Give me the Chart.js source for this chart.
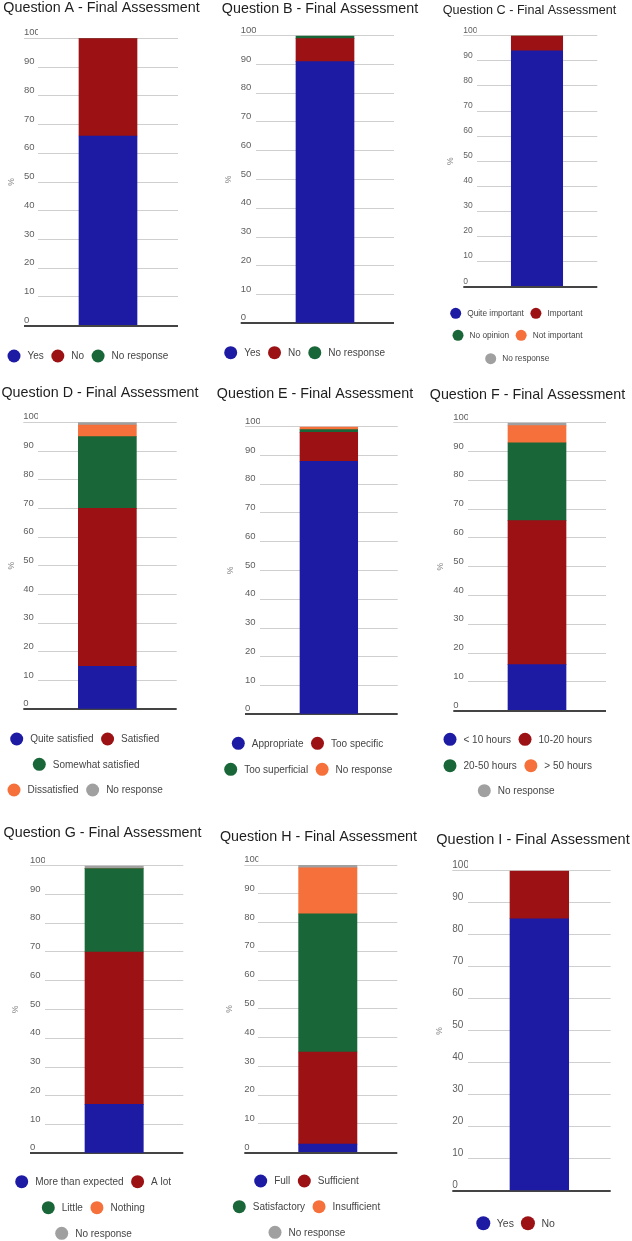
<!DOCTYPE html>
<html><head><meta charset="utf-8">
<script src="https://cdn.jsdelivr.net/npm/chart.js@4/dist/chart.umd.min.js"></script>
<style>
html,body{margin:0;padding:0;background:#fff;}
body{width:632px;height:1241px;position:relative;overflow:hidden;}
canvas{position:absolute;}
</style></head><body>
<script>
// ---------- DATA ----------
const titles = [
  'Question A - Final Assessment','Question B - Final Assessment','Question C - Final Assessment',
  'Question D - Final Assessment','Question E - Final Assessment','Question F - Final Assessment',
  'Question G - Final Assessment','Question H - Final Assessment','Question I - Final Assessment'
];
const yTickValues = [0,10,20,30,40,50,60,70,80,90,100];
const yAxisLabel = '%';

const catsA = ['Yes','No','No response'];
const valsA = [66, 34, 0];
const catsB = ['Yes','No','No response'];
const valsB = [91, 8, 1];
const catsC = ['Quite important','Important','No opinion','Not important','No response'];
const valsC = [94, 6, 0, 0, 0];
const catsD = ['Quite satisfied','Satisfied','Somewhat satisfied','Dissatisfied','No response'];
const valsD = [15, 55, 25, 4, 1];
const catsE = ['Appropriate','Too specific','Too superficial','No response'];
const valsE = [88, 10, 1, 1];
const catsF = ['< 10 hours','10-20 hours','20-50 hours','> 50 hours','No response'];
const valsF = [16, 50, 27, 6, 1];
const catsG = ['More than expected','A lot','Little','Nothing','No response'];
const valsG = [17, 53, 29, 0, 1];
const catsH = ['Full','Sufficient','Satisfactory','Insufficient','No response'];
const valsH = [3, 32, 48, 16, 1];
const catsI = ['Yes','No'];
const valsI = [85, 15];

const palette = ['#1d1ba3','#9b1114','#196639','#f5703a','#a0a0a0'];

// ---------- LAYOUT ----------
const FONT = "'Liberation Sans', Arial, sans-serif";
const panels = [
  {cats:catsA, vals:valsA, cell:[0,0,210,378], title:{x:101.5,y:12,size:14.3}, labelX:24, plotL:38, plotR:178, top:38.3, bottom:325.7, barW:58, pctX:11.7,
   legend:{rows:[{y:356,x:14,items:[0,1,2]}]}},
  {cats:catsB, vals:valsB, cell:[210,0,210,378], title:{x:320,y:13.3,size:14.3}, labelX:240.7, plotL:256, plotR:394, top:35.7, bottom:323.3, barW:58, pctX:228.3,
   legend:{rows:[{y:352.7,x:230.7,items:[0,1,2]}]}},
  {cats:catsC, vals:valsC, cell:[420,0,212,378], title:{x:529.5,y:14,size:12.6}, labelX:463.3, plotL:476.7, plotR:597.3, top:35.7, bottom:286.7, barW:51.4, pctX:451, tick:8.5,
   legend:{size:8.3, r:5.5, gap:11.5, sep:12, rows:[{y:313.3,x:455.7,items:[0,1]},{y:335.3,x:458,items:[2,3]},{y:358.7,x:490.7,items:[4]}]}},
  {cats:catsD, vals:valsD, cell:[0,378,210,437], title:{x:100,y:397.3,size:14.3}, labelX:23.3, plotL:38, plotR:176.7, top:422.3, bottom:709.3, barW:58, pctX:11.7,
   legend:{rows:[{y:739,x:16.7,items:[0,1]},{y:764.3,x:39.3,items:[2]},{y:790,x:14,items:[3,4]}]}},
  {cats:catsE, vals:valsE, cell:[210,378,210,437], title:{x:315,y:398.3,size:14.3}, labelX:245, plotL:260, plotR:397.7, top:426.7, bottom:714.3, barW:57.7, pctX:231,
   legend:{rows:[{y:743.3,x:238.3,items:[0,1]},{y:769.3,x:230.7,items:[2,3]}]}},
  {cats:catsF, vals:valsF, cell:[420,378,212,437], title:{x:527.5,y:399,size:14.3}, labelX:453.3, plotL:468, plotR:606, top:422.7, bottom:710.7, barW:58, pctX:440.7,
   legend:{rows:[{y:739.3,x:450,items:[0,1]},{y:765.7,x:450,items:[2,3]},{y:790.7,x:484.3,items:[4]}]}},
  {cats:catsG, vals:valsG, cell:[0,815,210,426], title:{x:102.5,y:837,size:14.3}, labelX:30, plotL:45, plotR:183.3, top:865.7, bottom:1153.3, barW:58.3, pctX:16,
   legend:{rows:[{y:1181.7,x:21.7,items:[0,1]},{y:1207.7,x:48.3,items:[2,3]},{y:1233.3,x:61.7,items:[4]}]}},
  {cats:catsH, vals:valsH, cell:[210,815,210,426], title:{x:318.5,y:841,size:14.3}, labelX:244.3, plotL:258.3, plotR:397.3, top:865, bottom:1152.7, barW:58.3, pctX:230,
   legend:{rows:[{y:1181,x:260.7,items:[0,1]},{y:1206.7,x:239.3,items:[2,3]},{y:1232.3,x:275,items:[4]}]}},
  {cats:catsI, vals:valsI, cell:[420,815,212,426], title:{x:533,y:844.3,size:14.5}, labelX:452.3, plotL:468, plotR:610.7, top:870.7, bottom:1191, barW:58.7, pctX:439.3, tick:10,
   legend:{size:10.5, r:7, rows:[{y:1223.3,x:483.3,items:[0,1]}]}}
];

function makeChart(p, title) {
  const [cx, cy, cw, ch] = p.cell;
  const cv = document.createElement('canvas');
  cv.width = cw; cv.height = ch;
  cv.style.left = cx + 'px'; cv.style.top = cy + 'px';
  cv.style.width = cw + 'px'; cv.style.height = ch + 'px';
  document.body.appendChild(cv);
  const tickSize = p.tick || 9.5;
  const axisW = p.plotL - p.labelX;
  const pctFont = 8.5;
  const lg = Object.assign({size:10, r:6.5, gap:13.5, sep:14}, p.legend);

  const deco = {
    id: 'deco',
    afterDraw(chart) {
      const ctx = chart.ctx;
      ctx.save();
      ctx.fillStyle = '#1e1e1e';
      ctx.font = p.title.size + 'px ' + FONT;
      ctx.textAlign = 'center';
      ctx.textBaseline = 'alphabetic';
      ctx.fillText(title, p.title.x - cx, p.title.y - cy);
      ctx.font = lg.size + 'px ' + FONT;
      ctx.textAlign = 'left';
      ctx.textBaseline = 'middle';
      lg.rows.forEach(row => {
        let x = row.x - cx;
        const y = row.y - cy;
        row.items.forEach(i => {
          const ds = chart.data.datasets[i];
          ctx.fillStyle = ds.backgroundColor;
          ctx.beginPath();
          ctx.arc(x, y, lg.r, 0, Math.PI * 2);
          ctx.fill();
          ctx.fillStyle = '#454545';
          const tx = x + lg.gap;
          ctx.fillText(ds.label, tx, y + 0.5);
          x = tx + ctx.measureText(ds.label).width + lg.sep;
        });
      });
      ctx.restore();
    }
  };

  return new Chart(cv, {
    type: 'bar',
    data: {
      labels: [''],
      datasets: p.cats.map((c, i) => ({
        label: c, data: [p.vals[i]], backgroundColor: palette[i],
        borderWidth: 0, barThickness: p.barW
      }))
    },
    options: {
      responsive: false, animation: false, devicePixelRatio: 1,
      layout: {padding: {left: p.labelX - cx, right: cx + cw - p.plotR, top: p.top - cy, bottom: cy + ch - p.bottom}},
      plugins: {legend: {display: false}, tooltip: {enabled: false}, title: {display: false}},
      scales: {
        x: {stacked: true, display: false},
        y: {
          stacked: true, min: 0, max: 100,
          afterBuildTicks: s => { s.ticks = yTickValues.map(v => ({value: v})); },
          afterFit: s => { s.width = axisW; },
          border: {display: false},
          grid: {
            color: c => (c.tick && c.tick.value === 0) ? '#444' : '#cfcfcf',
            lineWidth: c => (c.tick && c.tick.value === 0) ? 2 : 1,
            drawTicks: true,
            tickLength: axisW,
            tickColor: c => (c.tick && c.tick.value === 0) ? '#444' : ((c.tick && c.tick.value === 100) ? '#cfcfcf' : 'rgba(0,0,0,0)'),
            tickWidth: c => (c.tick && c.tick.value === 0) ? 2 : 1
          },
          ticks: {
            crossAlign: 'far', padding: 0, labelOffset: -5.5, autoSkip: false,
            color: '#5e5e5e', font: {family: FONT, size: tickSize},
            callback: v => String(v)
          },
          title: {
            display: true, text: yAxisLabel, color: '#8a8a8a',
            font: {family: FONT, size: pctFont},
            padding: {top: p.pctX - p.labelX - pctFont * 1.2 / 2, bottom: 0}
          }
        }
      }
    },
    plugins: [deco]
  });
}

panels.forEach((p, k) => makeChart(p, titles[k]));
</script>
</body></html>
